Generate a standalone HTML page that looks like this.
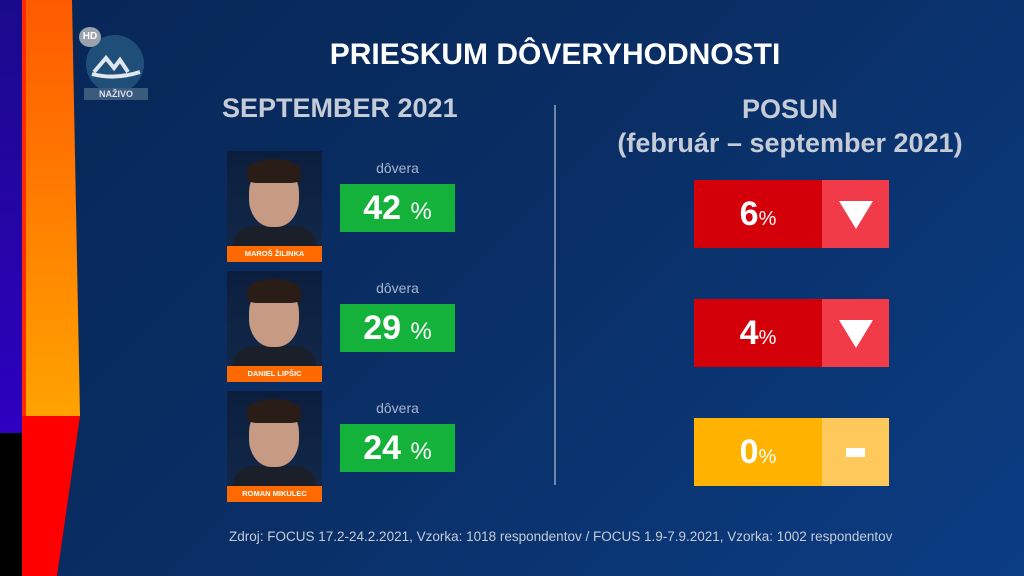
<!DOCTYPE html>
<html><head><meta charset="utf-8"><style>
*{margin:0;padding:0;box-sizing:border-box}
body{width:1024px;height:576px;overflow:hidden;position:relative;font-family:"Liberation Sans","DejaVu Sans",sans-serif;background:linear-gradient(135deg,#062655 0%,#0a2f66 50%,#0b3d84 100%);color:#fff}
.a{position:absolute}
.photo{position:absolute;left:227px;width:95px;height:111px;background:linear-gradient(#0c1e3d,#13294a)}
.photo .face{position:absolute;left:22px;top:14px;width:50px;height:62px;border-radius:45%;background:#c79a83}
.photo .hair{position:absolute;left:20px;top:8px;width:54px;height:24px;border-radius:50% 50% 20% 20%;background:#2a1c16}
.photo .suit{position:absolute;left:5px;top:75px;width:85px;height:22px;border-radius:30px 30px 0 0;background:#1a1f2a}
.photo .name{position:absolute;left:0;bottom:0;width:95px;height:16px;background:#ff6a00;font-size:7.5px;font-weight:bold;text-align:center;line-height:16px}
.dv{position:absolute;left:340px;width:115px;text-align:center;font-size:14px;color:#a8b6cc}
.g{position:absolute;left:340px;width:115px;height:48px;background:#14b13b;text-align:center;font-size:34px;font-weight:bold;line-height:48px}
.g span{font-size:24px;font-weight:normal}
.r{position:absolute;left:694px;width:195px;height:68px}
.r .l{position:absolute;left:0;top:0;width:128px;height:68px;text-align:center;font-size:34px;font-weight:bold;line-height:68px}
.r .l span{font-size:20px;font-weight:normal}
.r .rt{position:absolute;left:128px;top:0;width:67px;height:68px}
.tri{position:absolute;left:17px;top:21px;width:0;height:0;border-left:17px solid transparent;border-right:17px solid transparent;border-top:28px solid #fff}
</style></head><body>
<div class="a" style="left:0;top:0;width:22px;height:433px;background:linear-gradient(#1a0a8a,#2e00c0)"></div>
<div class="a" style="left:0;top:433px;width:22px;height:143px;background:#000"></div>
<svg class="a" style="left:22px;top:0" width="60" height="576"><defs><linearGradient id="o" x1="0" y1="0" x2="0" y2="1"><stop offset="0" stop-color="#ff5a00"/><stop offset="1" stop-color="#ffa300"/></linearGradient></defs>
<polygon points="0,0 50,0 58,416 58,416 0,416" fill="url(#o)"/><polygon points="0,0 4,0 4,416 0,416" fill="#ff2a00"/>
<polygon points="0,416 58,416 35,576 0,576" fill="#ff0000"/></svg>
<div class="a" style="left:86px;top:35px;width:58px;height:58px;border-radius:50%;background:#1f4f78"></div>
<div class="a" style="left:79px;top:27px;width:22px;height:20px;border-radius:50%;background:#9aa3ad;font-size:10px;font-weight:bold;text-align:center;line-height:20px">HD</div>
<svg class="a" style="left:90px;top:50px" width="52" height="30"><path d="M4,22 L16,8 L24,18 L30,10 L38,22 M2,24 Q25,30 50,22" stroke="#dfe6ee" stroke-width="4" fill="none"/></svg>
<div class="a" style="left:84px;top:88px;width:64px;height:12px;background:#3a5b7c;font-size:9px;font-weight:bold;text-align:center;line-height:12px;color:#dde">NAŽIVO</div>
<div class="a" style="left:0;width:1110px;top:38px;text-align:center;font-size:30px;font-weight:bold">PRIESKUM DÔVERYHODNOSTI</div>
<div class="a" style="left:222px;top:93px;font-size:27px;font-weight:bold;color:#c5ccd8">SEPTEMBER 2021</div>
<div class="a" style="left:554px;top:105px;width:2px;height:380px;background:#6f86a8"></div>
<div class="a" style="left:580px;width:420px;top:92px;text-align:center;font-size:27px;font-weight:bold;color:#c5ccd8;line-height:34px">POSUN<br>(február – september 2021)</div>

<div class="photo" style="top:151px"><div class="suit"></div><div class="face"></div><div class="hair"></div><div class="name">MAROŠ ŽILINKA</div></div>
<div class="photo" style="top:271px"><div class="suit"></div><div class="face"></div><div class="hair"></div><div class="name">DANIEL LIPŠIC</div></div>
<div class="photo" style="top:391px"><div class="suit"></div><div class="face"></div><div class="hair"></div><div class="name">ROMAN MIKULEC</div></div>

<div class="dv" style="top:160px">dôvera</div><div class="g" style="top:184px">42 <span>%</span></div>
<div class="dv" style="top:280px">dôvera</div><div class="g" style="top:304px">29 <span>%</span></div>
<div class="dv" style="top:400px">dôvera</div><div class="g" style="top:424px">24 <span>%</span></div>

<div class="r" style="top:180px"><div class="l" style="background:#d3000a">6<span>%</span></div><div class="rt" style="background:#f23b49"><div class="tri"></div></div></div>
<div class="r" style="top:299px"><div class="l" style="background:#d3000a">4<span>%</span></div><div class="rt" style="background:#f23b49"><div class="tri"></div></div></div>
<div class="r" style="top:418px"><div class="l" style="background:#ffb300">0<span>%</span></div><div class="rt" style="background:#ffc85a"><div class="a" style="left:24px;top:30px;width:19px;height:9px;background:#fff"></div></div></div>

<div class="a" style="left:229px;top:529px;font-size:13.5px;color:#c5ccd8;white-space:nowrap">Zdroj: FOCUS 17.2-24.2.2021, Vzorka: 1018 respondentov / FOCUS 1.9-7.9.2021, Vzorka: 1002 respondentov</div>
</body></html>
